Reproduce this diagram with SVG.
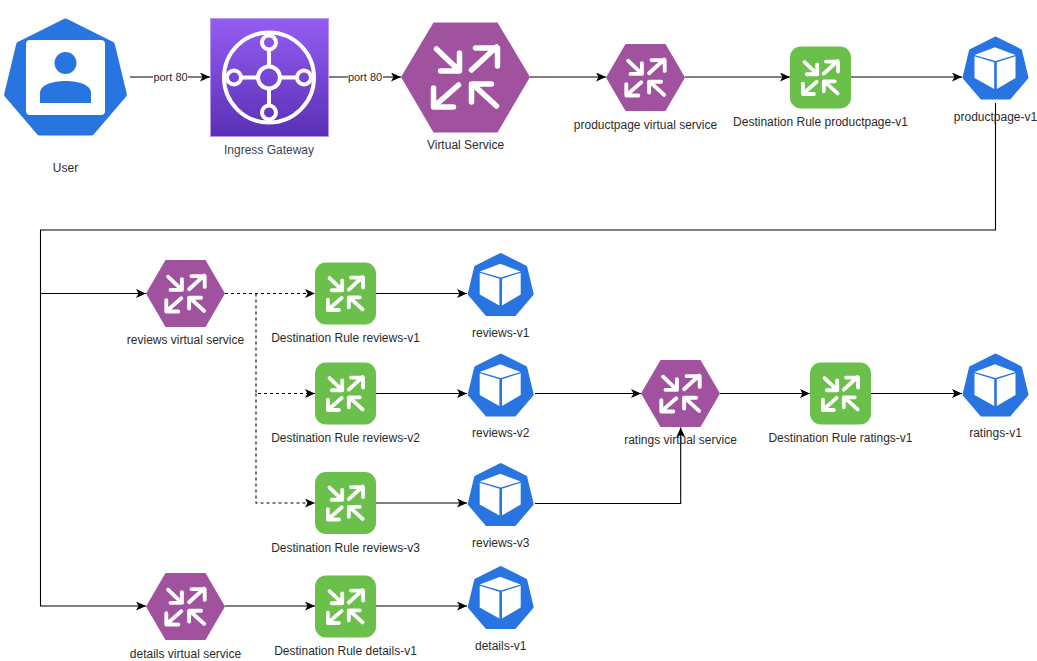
<svg xmlns="http://www.w3.org/2000/svg" width="1037" height="661" viewBox="0 0 1037 661">
<style>
text{font-family:"Liberation Sans",Arial,sans-serif;font-size:12px;fill:#2b2b2b;text-anchor:middle}
.c{fill:none;stroke:#000;stroke-width:1.1;marker-end:url(#a)}
.d{stroke-dasharray:3 3}
.i{fill:none;stroke:#fff;stroke-linecap:round;stroke-linejoin:round}
.g{fill:none;stroke:#fff;stroke-width:4}
</style>
<defs>
<marker id="a" markerUnits="userSpaceOnUse" markerWidth="11" markerHeight="10" refX="10" refY="4.500" orient="auto"><path d="M0 0L10 4.500L0 9L2.500 4.500Z" fill="#000"/></marker>
<linearGradient id="ig" x1="0" y1="0" x2="0" y2="1"><stop offset="0" stop-color="#945DF2"/><stop offset="1" stop-color="#5A30B5"/></linearGradient>
<path id="arrows" class="i" d="M-29-28L-7-7M-25-6H-6V-24M6-7L31-30M10-29H32V-11M-7 8L-31 29M-32 11V30H-12M31 29L8 8M6 25V7H26"/>
<g id="hexsmall"><path d="M-39.500 0L-20-33.500H20L39.500 0L20 33.500H-20Z" fill="#A0529F"/><use href="#arrows" stroke-width="6.500" transform="scale(.6)"/></g>
<g id="green"><rect x="-30.500" y="-31" width="61" height="62" rx="11" fill="#6BBF4B"/><use href="#arrows" stroke-width="7" transform="scale(.55)"/></g>
<path id="hept" d="M0-30L25-17.500L31.500 9.500L14 30H-14L-31.500 9.500L-25-17.500Z" fill="#2875E2" stroke="#2875E2" stroke-width="3" stroke-linejoin="round"/>
<g id="cube"><use href="#hept"/><path fill="#fff" d="M-21-13L-.5-20.700L20-13L0-7ZM-21-11.700L-1.300-5.700V21L-21 10ZM1.300-5.700L20-11.700V10L1.300 21Z"/></g>
</defs>
<g id="connectors">
<path class="c" d="M130 77H210"/>
<path class="c" d="M329 77H401"/>
<path class="c" d="M530 77H606"/>
<path class="c" d="M685 77H790"/>
<path class="c" d="M851 77H962"/>
<path class="c" d="M995.500 103V230H40.500V606H146"/>
<path class="c" d="M40.500 293.500H146"/>
<path class="c d" d="M225 293.500H315"/>
<path class="c d" d="M256 293.500V393.500H315"/>
<path class="c d" d="M256 393.500V503H315"/>
<path class="c" d="M376 293.500H467"/>
<path class="c" d="M376 393.500H467"/>
<path class="c" d="M376 503H467"/>
<path class="c" d="M376 606H467"/>
<path class="c" d="M225 606H315"/>
<path class="c" d="M535 393.500H641"/>
<path class="c" d="M535 503.500H680.700V427.500"/>
<path class="c" d="M720 393.500H810"/>
<path class="c" d="M871 393.500H962"/>
<rect x="153" y="70" width="35" height="14" fill="#fff"/>
<text x="170.500" y="81" style="font-size:11px">port 80</text>
<rect x="348" y="70" width="35" height="14" fill="#fff"/>
<text x="365" y="81" style="font-size:11px">port 80</text>
</g>
<g id="user">
<use href="#hept" transform="translate(65.500 77) scale(1.86)"/>
<rect x="26" y="40" width="79" height="75" rx="4" fill="#fff"/>
<circle cx="65.500" cy="63" r="11" fill="#2875E2"/>
<path d="M40 103V93C40 85 52 81 65.500 81S91 85 91 93V103Z" fill="#2875E2"/>
<text x="65.500" y="172">User</text>
</g>
<g id="ingress-gateway">
<rect x="210.500" y="18.500" width="118" height="118" fill="url(#ig)" stroke="#B794F0"/>
<g class="g"><circle cx="269" cy="77.500" r="45"/><circle cx="269" cy="77.500" r="11"/><circle cx="269" cy="42.500" r="7"/><circle cx="269" cy="112.500" r="7"/><circle cx="234" cy="77.500" r="7"/><circle cx="304" cy="77.500" r="7"/><path d="M269 49.500V66.500M269 88.500V105.500M241 77.500H258M280 77.500H297"/></g>
<text x="269" y="154" style="fill:#3a4450">Ingress Gateway</text>
</g>
<g id="virtual-service">
<path d="M401 77L433.500 22.500H497.500L530 77L497.500 132.500H433.500Z" fill="#A0529F"/>
<use href="#arrows" stroke-width="5.500" transform="translate(465.500 77)"/>
<text x="465.500" y="149">Virtual Service</text>
</g>
<g id="productpage-vs"><use href="#hexsmall" x="645.500" y="77.500"/><text x="645.500" y="129">productpage virtual service</text></g>
<g id="dr-productpage"><use href="#green" x="820.500" y="77.500"/><text x="820.500" y="126">Destination Rule productpage-v1</text></g>
<g id="productpage-v1"><use href="#cube" x="995.500" y="68"/><text x="995.500" y="121">productpage-v1</text></g>
<g id="reviews-vs"><use href="#hexsmall" x="185.500" y="293.500"/><text x="185.500" y="344">reviews virtual service</text></g>
<g id="dr-reviews-v1"><use href="#green" x="345.500" y="293.500"/><text x="345.500" y="342">Destination Rule reviews-v1</text></g>
<g id="reviews-v1"><use href="#cube" x="500.700" y="284.500"/><text x="500.700" y="337">reviews-v1</text></g>
<g id="dr-reviews-v2"><use href="#green" x="345.500" y="393.500"/><text x="345.500" y="442">Destination Rule reviews-v2</text></g>
<g id="reviews-v2"><use href="#cube" x="500.700" y="385"/><text x="500.700" y="437">reviews-v2</text></g>
<g id="dr-reviews-v3"><use href="#green" x="345.500" y="503"/><text x="345.500" y="552">Destination Rule reviews-v3</text></g>
<g id="reviews-v3"><use href="#cube" x="500.700" y="494.500"/><text x="500.700" y="547">reviews-v3</text></g>
<g id="ratings-vs"><use href="#hexsmall" x="680.500" y="393.500"/><text x="680.500" y="444">ratings virtual service</text></g>
<g id="dr-ratings"><use href="#green" x="840.500" y="393.500"/><text x="840.500" y="442">Destination Rule ratings-v1</text></g>
<g id="ratings-v1"><use href="#cube" x="995.500" y="385"/><text x="995.500" y="437">ratings-v1</text></g>
<g id="details-vs"><use href="#hexsmall" x="185.500" y="606.500"/><text x="185.500" y="658">details virtual service</text></g>
<g id="dr-details"><use href="#green" x="345.500" y="606.500"/><text x="345.500" y="655">Destination Rule details-v1</text></g>
<g id="details-v1"><use href="#cube" x="500.700" y="597.500"/><text x="500.700" y="650">details-v1</text></g>
</svg>
